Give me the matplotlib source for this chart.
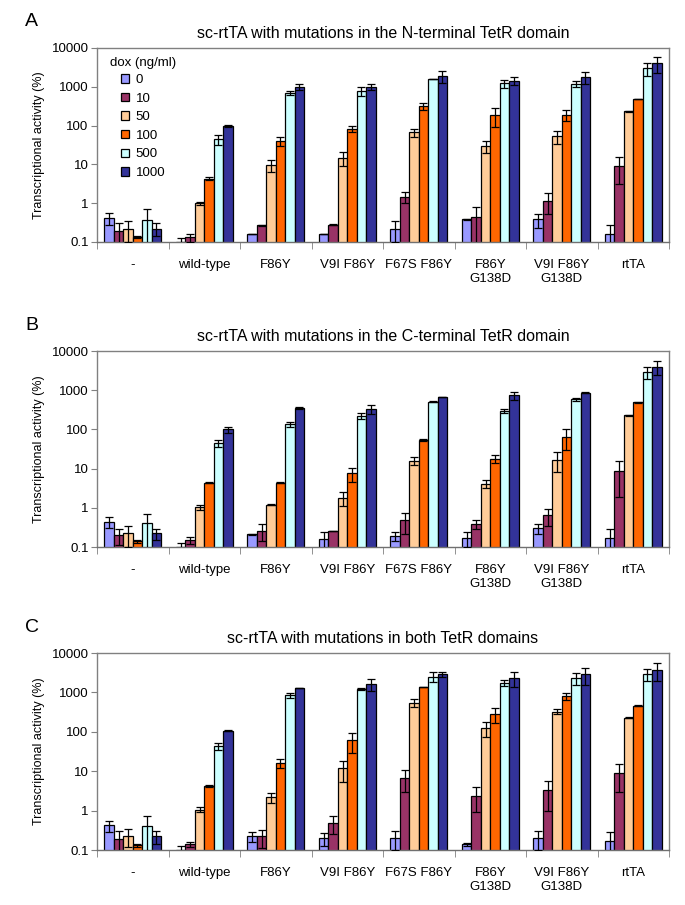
import numpy as np
import matplotlib
matplotlib.use("Agg")
import matplotlib.pyplot as plt
from matplotlib.ticker import FixedLocator, NullFormatter

plt.rcParams['font.family'] = ['Liberation Sans', 'DejaVu Sans']

groups = ['-', 'wild-type', 'F86Y', 'V9I F86Y', 'F67S F86Y',
          'F86Y\nG138D', 'V9I F86Y\nG138D', 'rtTA']
dox = ['0', '10', '50', '100', '500', '1000']
colors = ['#9999FF', '#993366', '#FFCC99', '#FF6600', '#CCFFFF', '#333399']

titles = ['sc-rtTA with mutations in the N-terminal TetR domain',
          'sc-rtTA with mutations in the C-terminal TetR domain',
          'sc-rtTA with mutations in both TetR domains']
letters = ['A', 'B', 'C']

# rows = groups, columns = dox levels
vals_a = [[0.42, 0.19, 0.22, 0.135, 0.36, 0.22],
          [0.1, 0.13, 1.0, 4.3, 44, 98],
          [0.16, 0.27, 9.6, 41, 690, 1000],
          [0.16, 0.28, 15, 82, 790, 1000],
          [0.22, 1.45, 67, 320, 1580, 1920],
          [0.39, 0.44, 30, 190, 1240, 1450],
          [0.38, 1.15, 54, 190, 1170, 1780],
          [0.16, 9.1, 234, 490, 3020, 4100]]
errs_a = [[0.15, 0.11, 0.12, 0.01, 0.33, 0.08],
          [0.03, 0.03, 0.1, 0.4, 12, 8],
          [0, 0.01, 3.3, 11, 90, 170],
          [0, 0.01, 6, 14, 210, 170],
          [0.12, 0.45, 17, 70, 0, 680],
          [0.01, 0.36, 10, 100, 290, 350],
          [0.15, 0.63, 20, 60, 200, 620],
          [0.12, 6, 10, 0, 1080, 1800]]

vals_b = [[0.44, 0.2, 0.22, 0.14, 0.4, 0.22],
          [0.1, 0.15, 1.05, 4.4, 45, 100],
          [0.21, 0.26, 1.2, 4.4, 135, 355],
          [0.16, 0.26, 1.82, 7.5, 223, 340],
          [0.19, 0.48, 16, 55, 510, 680],
          [0.17, 0.38, 4.1, 18, 300, 740],
          [0.3, 0.65, 17, 65, 590, 870],
          [0.17, 8.7, 230, 490, 2950, 4000]]
errs_b = [[0.14, 0.09, 0.12, 0.01, 0.31, 0.07],
          [0.03, 0.03, 0.15, 0.1, 10, 17],
          [0.01, 0.12, 0.05, 0.1, 20, 15],
          [0.08, 0.0, 0.7, 3, 37, 90],
          [0.05, 0.27, 4, 3, 15, 10],
          [0.07, 0.1, 0.9, 4, 40, 170],
          [0.08, 0.3, 9, 35, 60, 20],
          [0.11, 6.8, 5, 5, 1050, 1600]]

vals_c = [[0.42, 0.19, 0.23, 0.13, 0.4, 0.22],
          [0.1, 0.14, 1.05, 4.2, 44, 107],
          [0.22, 0.22, 2.15, 16, 850, 1300],
          [0.2, 0.48, 12, 62, 1200, 1620],
          [0.2, 6.9, 550, 1340, 2500, 2870],
          [0.14, 2.4, 127, 280, 1750, 2350],
          [0.2, 3.4, 325, 800, 2350, 2870],
          [0.17, 8.9, 230, 460, 2900, 3800]]
errs_c = [[0.14, 0.11, 0.11, 0.01, 0.31, 0.08],
          [0.03, 0.02, 0.15, 0.2, 9, 5],
          [0.06, 0.11, 0.6, 4, 110, 30],
          [0.07, 0.23, 6.6, 33, 60, 510],
          [0.1, 4, 130, 0, 700, 350],
          [0.01, 1.5, 53, 115, 300, 970],
          [0.1, 2.4, 45, 170, 800, 1330],
          [0.11, 6, 8, 10, 1000, 1800]]

yticks = [0.1, 1, 10, 100, 1000, 10000]
ytick_labels = ['0.1', '1', '10', '100', '1000', '10000']

# axes boxes in pixels: (top, bottom)
W, H = 685, 905
boxes = [(48, 242), (351, 547), (653, 850)]
left_px, right_px = 97, 669
aw = right_px - left_px

fig = plt.figure(figsize=(W / 100, H / 100), dpi=100)

panels = [(vals_a, errs_a), (vals_b, errs_b), (vals_c, errs_c)]
bw = 0.132
x = np.arange(len(groups))

for p, (vals, errs) in enumerate(panels):
    top, bot = boxes[p]
    ah = bot - top
    ax = fig.add_axes([left_px / W, 1 - bot / H, aw / W, ah / H])
    ax.set_yscale('log')
    v = np.array(vals)
    e = np.array(errs)
    for j in range(len(dox)):
        xs = x + (j - 2.5) * bw
        ax.bar(xs, v[:, j], width=bw, bottom=0.001, color=colors[j],
               edgecolor='black', linewidth=0.9, label=dox[j], zorder=2)
        ax.errorbar(xs, v[:, j], yerr=e[:, j], fmt='none', ecolor='black',
                    elinewidth=0.9, capsize=3.2, capthick=0.9, zorder=3)
    ax.set_ylim(0.1, 10000)
    ax.set_xlim(-0.5, len(groups) - 0.5)
    ax.yaxis.set_major_locator(FixedLocator(yticks))
    ax.set_yticklabels(ytick_labels)
    ax.yaxis.set_minor_formatter(NullFormatter())
    ax.tick_params(axis='y', which='minor', length=0)
    ax.tick_params(axis='y', which='major', length=4, color='#808080',
                   labelsize=9.5, pad=2)
    ax.set_xticks(x)
    ax.set_xticklabels(groups, fontsize=9.5, linespacing=1.25)
    ax.tick_params(axis='x', which='major', length=0, pad=12)
    ax.set_xticks(np.arange(-0.5, len(groups)), minor=True)
    ax.tick_params(axis='x', which='minor', length=5, color='#808080')
    for s in ['top', 'right', 'left']:
        ax.spines[s].set_color('#808080')
    ax.spines['bottom'].set_color('#707070')
    for s in ax.spines.values():
        s.set_linewidth(1.0)
    ax.set_ylabel('Transcriptional activity (%)', fontsize=9, labelpad=5)
    ax.set_title(titles[p], fontsize=11.5, pad=7)
    fig.text(25 / W, 1 - (top - 26) / H, letters[p], fontsize=14,
             ha='left', va='center')
    if p == 0:
        ax.text((110 - left_px) / aw, 1 - (63 - top) / ah, 'dox (ng/ml)',
                transform=ax.transAxes, fontsize=9.5, ha='left', va='center')
        ax.legend(loc='upper left', frameon=False, fontsize=9.5,
                  handlelength=0.6, handleheight=0.6, handletextpad=0.5,
                  labelspacing=0.5, borderpad=0, borderaxespad=0,
                  bbox_to_anchor=((121 - left_px) / aw, 1 - (74 - top) / ah))

fig.savefig('out.png', dpi=100)
